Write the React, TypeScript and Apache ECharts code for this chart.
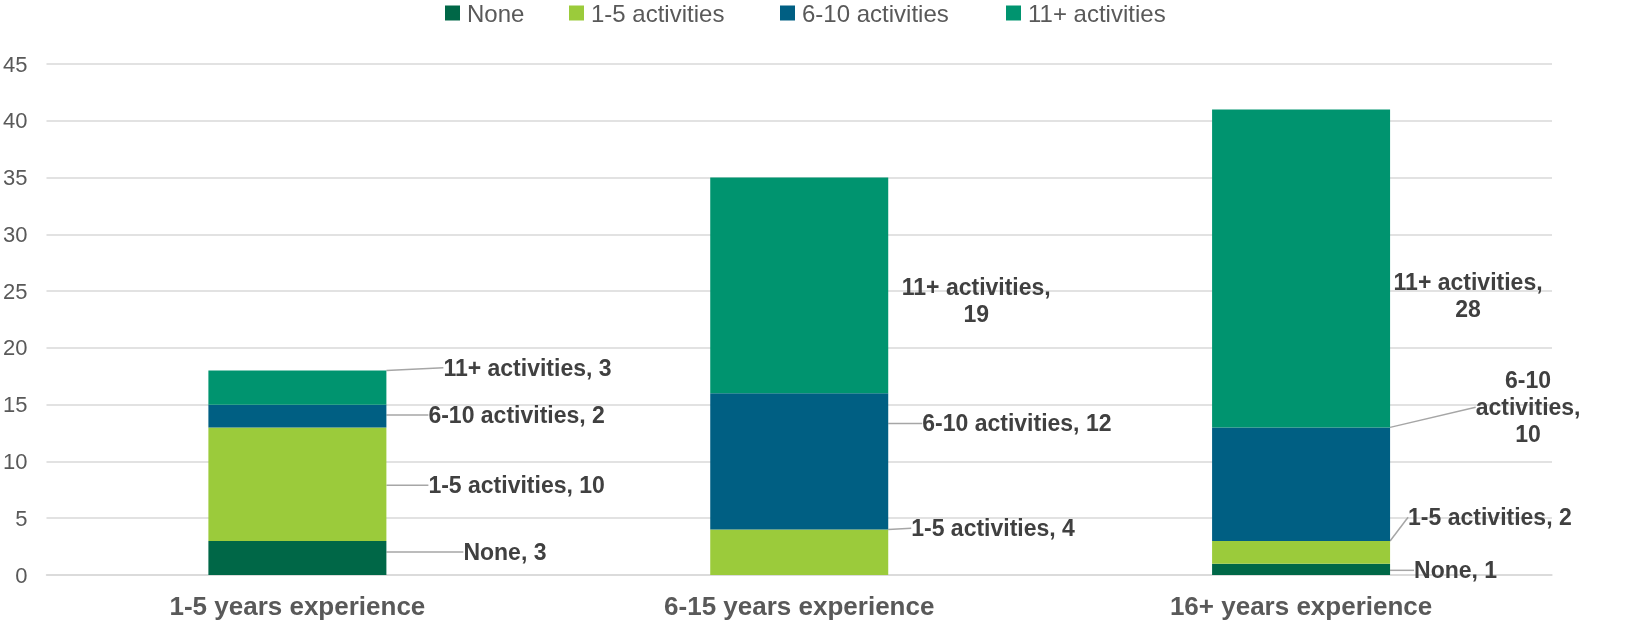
import React, { useEffect, useRef } from "react";
import * as echarts from "echarts";

const categories = ["1-5 years experience", "6-15 years experience", "16+ years experience"];
const seriesNames = ["None", "1-5 activities", "6-10 activities", "11+ activities"];
const noneValues = [3, 0, 1];
const oneToFiveValues = [10, 4, 2];
const sixToTenValues = [2, 12, 10];
const elevenPlusValues = [3, 19, 28];
const colors = ["#006747", "#9BCB3B", "#005F83", "#00946F"];
const legendLefts = [440, 564, 775, 1001];

// label placement [dx, dy, align, custom template, showLine]
const labelPlacement: any[][] = [
  [[72, -6, "left", null, true], [0, 0, "left", null, false], [19, 1, "left", null, true]],
  [[37, 1, "left", null, true], [18, -24, "left", null, true], [13, -35, "left", null, true]],
  [[37, -1, "left", null, true], [29, -38, "left", null, true], [133, -77, "center", "6-10\nactivities,\n{c}", true]],
  [[52, -20, "left", null, true], [83, 15, "center", "{a},\n{c}", false], [73, 27, "center", "{a},\n{c}", false]],
];

const allValues = [noneValues, oneToFiveValues, sixToTenValues, elevenPlusValues];
const FONT = "Liberation Sans";

export default function App() {
  const ref = useRef<HTMLDivElement>(null);
  useEffect(() => {
    const chart = echarts.init(ref.current!, null, { renderer: "svg" });
    const series = seriesNames.map((name, si) => ({
      name,
      type: "bar",
      stack: "total",
      barWidth: 178,
      itemStyle: { color: colors[si] },
      label: {
        show: true,
        position: "right",
        distance: 5,
        fontFamily: FONT,
        fontWeight: "bold",
        fontSize: 23,
        color: "#404040",
        lineHeight: 27,
      },
      labelLine: { show: true, lineStyle: { color: "#a6a6a6", width: 1.5 } },
      data: allValues[si].map((v, ci) => {
        const p = labelPlacement[si][ci];
        const tmpl: string = p[3] ? p[3] : "{a}, {c}";
        const text = tmpl.replace("{a}", name).replace("{c}", String(v));
        return {
          value: v,
          label: { show: v !== 0, align: p[2], formatter: text },
          labelLine: { show: p[4] },
        };
      }),
    }));
    const legends = seriesNames.map((name, i) => ({
      top: 0,
      left: legendLefts[i],
      padding: [1, 5, 5, 5],
      itemWidth: 15,
      itemHeight: 15,
      icon: "rect",
      textStyle: { fontSize: 24, color: "#595959", fontFamily: FONT, padding: [0, 0, 0, 2] },
      data: [name],
    }));
    chart.setOption({
      animation: false,
      textStyle: { fontFamily: FONT },
      legend: legends,
      grid: { left: 46, right: 75, top: 64, bottom: 68 },
      xAxis: {
        type: "category",
        data: categories,
        axisTick: { show: false },
        axisLine: { lineStyle: { color: "#d9d9d9", width: 1.5 } },
        axisLabel: { fontSize: 26, fontWeight: "bold", color: "#595959", margin: 18, fontFamily: FONT },
      },
      yAxis: {
        type: "value",
        min: 0,
        max: 45,
        interval: 5,
        axisLabel: { fontSize: 22, color: "#595959", margin: 19, fontFamily: FONT },
        splitLine: { lineStyle: { color: "#d9d9d9", width: 1.5 } },
      },
      labelLayout: (params: any) => {
        const p = labelPlacement[params.seriesIndex][params.dataIndex];
        return { dx: p[0], dy: p[1] };
      },
      series,
    });
    return () => chart.dispose();
  }, []);
  return <div ref={ref} style={{ position: "fixed", left: 0, top: 0, width: 1627, height: 643 }} />;
}
